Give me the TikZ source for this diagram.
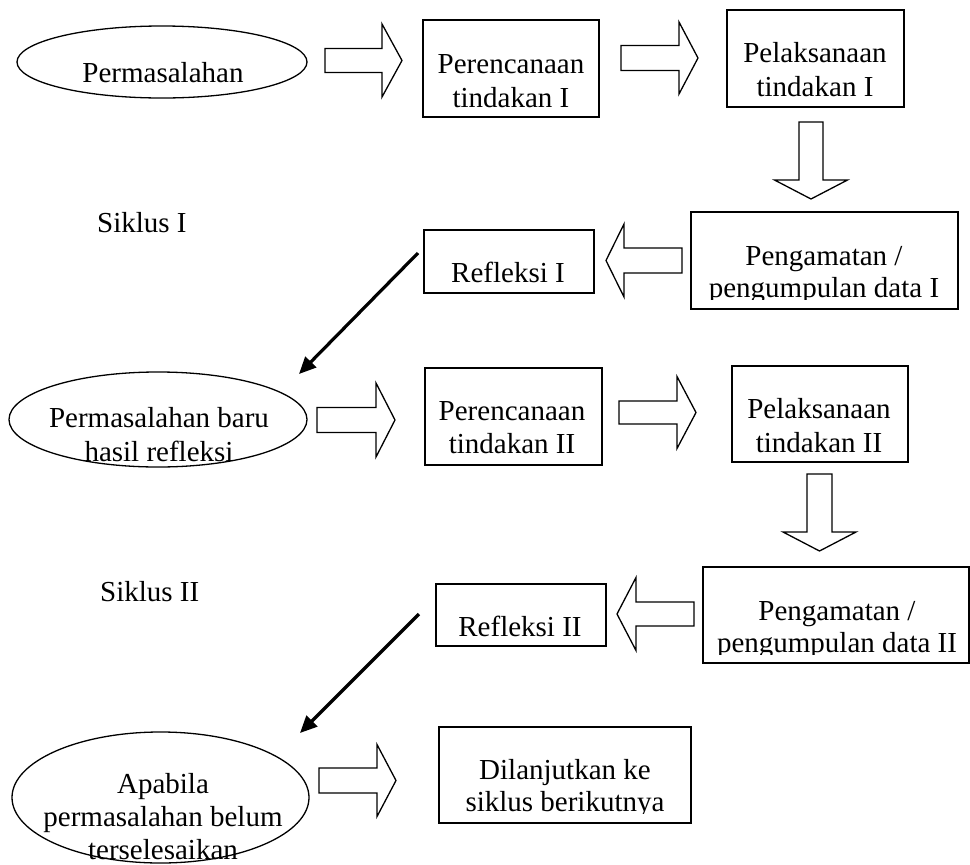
\documentclass[tikz,border=0pt]{standalone}
\usepackage{fontspec}
\setmainfont{Liberation Serif}
\usetikzlibrary{shapes.geometric,arrows.meta}
\newcommand\blockhoriz[6]{% tail x, head base x, tip x, centre y, shaft half, head half
  \draw[blk] (#1,{#4-#5}) -- (#2,{#4-#5}) -- (#2,{#4-#6}) -- (#3,#4) -- (#2,{#4+#6}) -- (#2,{#4+#5}) -- (#1,{#4+#5}) -- cycle;}
\newcommand\blockvert[6]{% centre x, tail y, head base y, tip y, shaft half, head half
  \draw[blk] ({#1-#5},#2) -- ({#1+#5},#2) -- ({#1+#5},#3) -- ({#1+#6},#3) -- (#1,#4) -- ({#1-#6},#3) -- ({#1-#5},#3) -- cycle;}
\tikzset{
  box/.style={draw, line width=1.3pt, rectangle, inner sep=0pt},
  oval/.style={draw, line width=1.3pt, ellipse, inner sep=0pt},
  lbl/.style={anchor=base, inner sep=0pt, font=\fontsize{29}{34}\selectfont},
  lblw/.style={anchor=base west, inner sep=0pt, font=\fontsize{29}{34}\selectfont},
  blk/.style={draw, line width=1.3pt, line join=miter, fill=white},
  diag/.style={line width=3.2pt, -{Triangle[length=17pt,width=15pt]}},
}
\begin{document}
\begin{tikzpicture}[x=1pt,y=-1pt]
\useasboundingbox (0,0) rectangle (970,865);
\fill[white] (0,0) rectangle (970,865);

% ---- Cycle I ----
\node[oval, minimum width=290pt, minimum height=72pt] (e1) at (162,62) {};
\node[lbl] (e1t) at (163,82) {Permasalahan};
\blockhoriz{325}{382}{402}{60.5}{12}{36.5}

\node[box, minimum width=176pt, minimum height=97pt] (b1) at (511,68.5) {};
\node[lbl] (b1a) at (511,73) {Perencanaan};
\node[lbl] (b1b) at (511,107) {tindakan I};
\blockhoriz{621}{679}{698}{58}{12.5}{36}

\node[box, minimum width=177pt, minimum height=97pt] (b2) at (815.5,58.5) {};
\node[lbl] (b2a) at (815,62) {Pelaksanaan};
\node[lbl] (b2b) at (815,96) {tindakan I};
\blockvert{811}{122}{180}{199}{12}{36.5}

\node[lblw] (s1) at (97,232) {Siklus I};

\node[box, minimum width=267pt, minimum height=97pt] (b3) at (824.5,260.5) {};
\begin{scope}
  \clip (691,212) rectangle (958,299);
  \node[lbl] (b3a) at (824,265) {Pengamatan /};
  \node[lbl] (b3b) at (824,297) {pengumpulan data I};
\end{scope}
\blockhoriz{682}{624}{606}{260.5}{12.5}{36.5}

\node[box, minimum width=170pt, minimum height=63pt] (r1) at (509,261.5) {};
\node[lbl] (r1t) at (508,282) {Refleksi I};

\coordinate (d1s) at (418,253);
\coordinate (d1e) at (299,374);
\draw[diag] (d1s) -- (d1e);

% ---- Cycle II ----
\node[oval, minimum width=298pt, minimum height=95pt] (e2) at (158,419.5) {};
\node[lbl] (e2a) at (159,427) {Permasalahan baru};
\node[lbl] (e2b) at (159,461) {hasil refleksi};
\blockhoriz{317}{376}{395}{420}{12.5}{37}

\node[box, minimum width=177pt, minimum height=97pt] (b4) at (513.5,416.5) {};
\node[lbl] (b4a) at (512,420) {Perencanaan};
\node[lbl] (b4b) at (512,453) {tindakan II};
\blockhoriz{619}{677}{696}{412.5}{11.5}{36}

\node[box, minimum width=176pt, minimum height=96pt] (b5) at (820,414) {};
\node[lbl] (b5a) at (819,418) {Pelaksanaan};
\node[lbl] (b5b) at (819,452) {tindakan II};
\blockvert{819.5}{474}{532}{551}{12.5}{36.5}

\node[lblw] (s2) at (100,601) {Siklus II};

\node[box, minimum width=266pt, minimum height=96pt] (b6) at (836,615) {};
\begin{scope}
  \clip (703,567) rectangle (969,654);
  \node[lbl] (b6a) at (837,620) {Pengamatan /};
  \node[lbl] (b6b) at (837,652) {pengumpulan data II};
\end{scope}
\blockhoriz{694}{636}{617}{614}{12}{36.5}

\node[box, minimum width=170pt, minimum height=62pt] (r2) at (521,615) {};
\node[lbl] (r2t) at (520,636) {Refleksi II};

\coordinate (d2s) at (419,614);
\coordinate (d2e) at (300,733);
\draw[diag] (d2s) -- (d2e);

% ---- Final ----
\node[oval, minimum width=297pt, minimum height=131pt] (e3) at (160.5,797.5) {};
\node[lbl] (e3a) at (163,793) {Apabila};
\node[lbl] (e3b) at (163,826) {permasalahan belum};
\node[lbl] (e3c) at (163,859) {terselesaikan};
\blockhoriz{319}{377}{396}{780.5}{12.5}{36}

\node[box, minimum width=252pt, minimum height=96pt] (b7) at (565,775) {};
\begin{scope}
  \clip (439,727) rectangle (691,813);
  \node[lbl] (b7a) at (565,779) {Dilanjutkan ke};
  \node[lbl] (b7b) at (565,811) {siklus berikutnya};
\end{scope}
\end{tikzpicture}
\end{document}
